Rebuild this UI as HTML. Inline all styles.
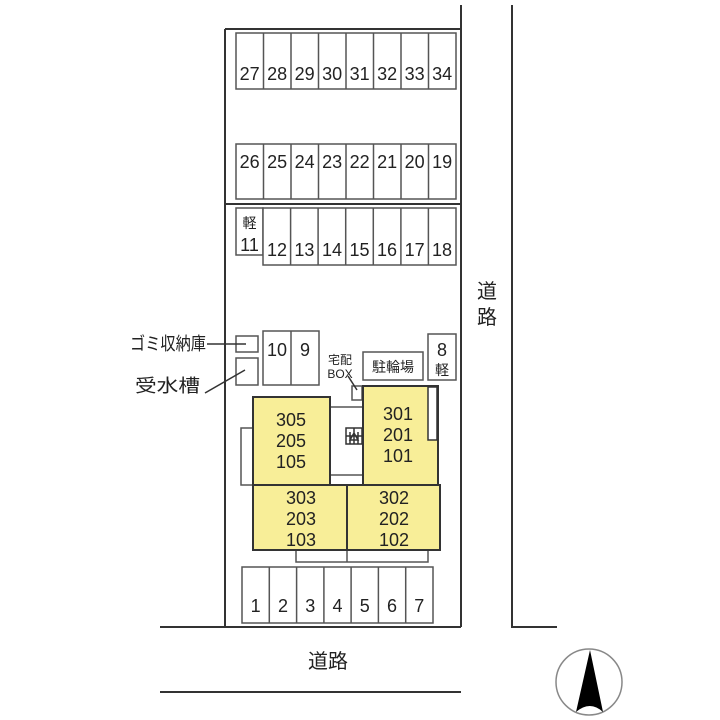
<!DOCTYPE html><html><head><style>body{margin:0;background:#fff}svg{display:block}text{font-family:"Liberation Sans","Noto Sans CJK JP",sans-serif;fill:#222}</style></head><body>
<svg width="720" height="720" viewBox="0 0 720 720" xmlns="http://www.w3.org/2000/svg">
<g stroke="#333" fill="none" stroke-width="2">
<path d="M461 5 V627 M225 29 H461 M225 29 V627 M225 204 H461 M160 627 H461 M512 5 V627 H557 M160 692 H461"/>
</g>
<g stroke="#555" fill="#fff" stroke-width="1.5">
<rect x="236" y="33" width="220" height="56"/>
<rect x="236" y="144" width="220" height="55"/>
<rect x="236" y="208" width="27" height="47"/>
<rect x="263" y="208" width="193" height="57"/>
<path d="M263.5 33V89M291 33V89M318.5 33V89M346 33V89M373.5 33V89M401 33V89M428.5 33V89"/>
<path d="M263.5 144V199M291 144V199M318.5 144V199M346 144V199M373.5 144V199M401 144V199M428.5 144V199"/>
<path d="M290.6 208V265M318.1 208V265M345.7 208V265M373.3 208V265M400.9 208V265M428.4 208V265"/>
<rect x="236" y="336" width="22" height="16"/>
<rect x="236" y="358" width="22" height="27"/>
<rect x="263" y="331" width="56" height="54"/><path d="M291 331V385"/>
<rect x="363" y="352" width="60" height="28"/>
<rect x="428" y="334" width="28" height="46"/>
<rect x="352" y="386" width="10" height="14"/>
<rect x="241" y="428" width="14" height="57"/>
<rect x="330" y="407" width="34" height="68"/>
<rect x="296" y="550" width="132" height="12"/><path d="M347 550V562"/>
<rect x="242" y="567" width="191" height="56"/>
<path d="M269.3 567V623M296.6 567V623M323.9 567V623M351.1 567V623M378.4 567V623M405.7 567V623"/>
</g>
<g stroke="#333" fill="#f8ee98" stroke-width="2">
<rect x="253" y="485" width="94" height="65"/>
<rect x="347" y="485" width="93" height="65"/>
<rect x="253" y="397" width="77" height="88"/>
<path d="M363 386H438V485H363Z"/>
</g>
<rect x="428" y="387" width="9" height="53" fill="#fff" stroke="#333" stroke-width="1.5"/>
<g stroke="#333" stroke-width="1.5" fill="none">
<path d="M207 344H246M205 393L245 370M348 376L357 390"/>
<rect x="346" y="428" width="16" height="16" fill="#fff"/><path d="M346 436H362M350 432V444M354 428V444M358 432V444M350 440L354 433L358 440Z"/>
</g>
<g font-size="18" text-anchor="middle">
<text x="249.7" y="80">27</text><text x="277.2" y="80">28</text><text x="304.7" y="80">29</text><text x="332.2" y="80">30</text><text x="359.7" y="80">31</text><text x="387.2" y="80">32</text><text x="414.7" y="80">33</text><text x="442.2" y="80">34</text>
<text x="249.7" y="168">26</text><text x="277.2" y="168">25</text><text x="304.7" y="168">24</text><text x="332.2" y="168">23</text><text x="359.7" y="168">22</text><text x="387.2" y="168">21</text><text x="414.7" y="168">20</text><text x="442.2" y="168">19</text>
<text x="249.5" y="251">11</text>
<text x="277" y="256">12</text><text x="304.4" y="256">13</text><text x="332" y="256">14</text><text x="359.5" y="256">15</text><text x="387" y="256">16</text><text x="414.7" y="256">17</text><text x="442" y="256">18</text>
<text x="277" y="356">10</text><text x="305" y="356">9</text>
<text x="442" y="356">8</text>
<text x="255.6" y="612">1</text><text x="283" y="612">2</text><text x="310.2" y="612">3</text><text x="337.5" y="612">4</text><text x="364.8" y="612">5</text><text x="392" y="612">6</text><text x="419.3" y="612">7</text>
<text x="291" y="426">305</text><text x="291" y="447">205</text><text x="291" y="468">105</text>
<text x="398" y="420">301</text><text x="398" y="441">201</text><text x="398" y="462">101</text>
<text x="301" y="504">303</text><text x="301" y="525">203</text><text x="301" y="546">103</text>
<text x="394" y="504">302</text><text x="394" y="525">202</text><text x="394" y="546">102</text>
</g>
<g font-size="14" text-anchor="middle">
<text x="249.5" y="228">軽</text><text x="442" y="375">軽</text>
<text x="393" y="372">駐輪場</text>
</g>
<g font-size="12" text-anchor="middle"><text x="340" y="364">宅配</text><text x="340" y="378">BOX</text></g>
<g font-size="18">
<text x="130" y="350" textLength="76" lengthAdjust="spacingAndGlyphs">ゴミ収納庫</text><text x="135" y="392" textLength="65" lengthAdjust="spacingAndGlyphs">受水槽</text>
<text x="308" y="668" font-size="20">道路</text>
<text x="477" y="298" font-size="20">道</text><text x="477" y="324" font-size="20">路</text>
</g>
<circle cx="589" cy="682" r="33" fill="none" stroke="#888" stroke-width="1.5"/>
<path d="M590 650L603 712Q590 700 576 712Z" fill="#000"/>
</svg>
</body></html>
